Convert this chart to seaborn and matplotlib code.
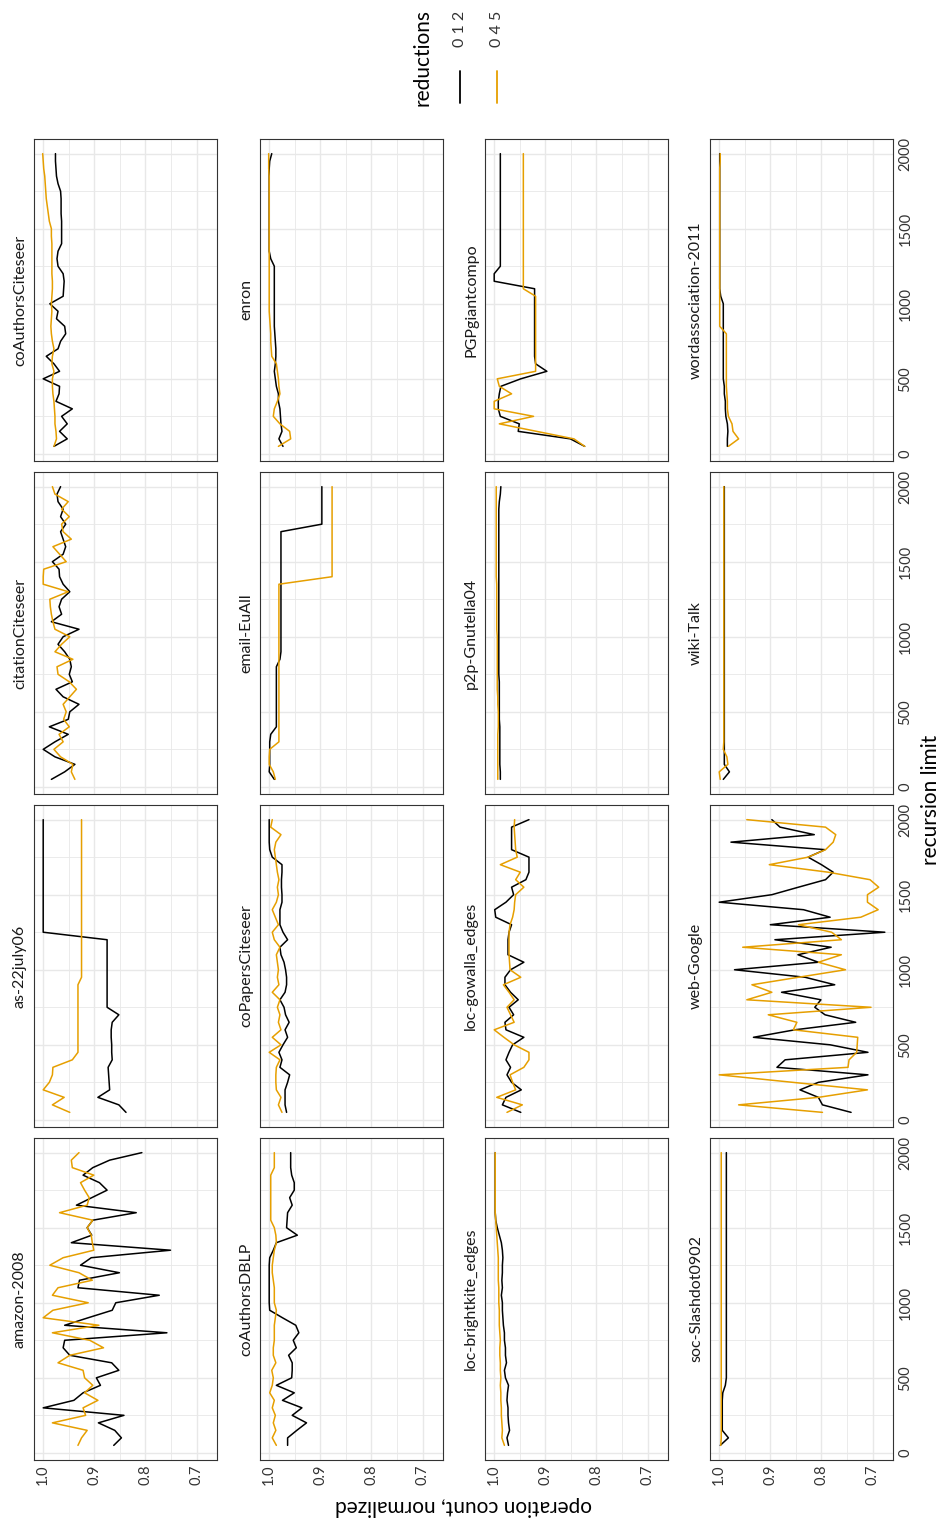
import numpy as np
import pandas as pd
import seaborn as sns
import matplotlib
matplotlib.use("Agg")
import matplotlib.pyplot as plt
from matplotlib.lines import Line2D
from matplotlib.ticker import FixedLocator, MultipleLocator, FormatStrFormatter

# recursion limits (x of the original chart)
limits = [50, 100, 150, 200, 250, 300, 350, 400, 450, 500,
          550, 600, 650, 700, 750, 800, 850, 900, 950, 1000,
          1050, 1100, 1150, 1200, 1250, 1300, 1350, 1400, 1450, 1500,
          1550, 1600, 1650, 1700, 1750, 1800, 1850, 1900, 1950, 2000]

graphs = ["amazon-2008", "as-22july06", "citationCiteseer", "coAuthorsCiteseer",
          "coAuthorsDBLP", "coPapersCiteseer", "email-EuAll", "enron",
          "loc-brightkite_edges", "loc-gowalla_edges", "p2p-Gnutella04", "PGPgiantcompo",
          "soc-Slashdot0902", "web-Google", "wiki-Talk", "wordassociation-2011"]

reductions = ["0 1 2", "0 4 5"]
colors = {"0 1 2": "#000000", "0 4 5": "#E69F00"}

# normalized operation counts, one list per graph and reduction set
amazon_012 = [0.862, 0.847, 0.860, 0.892, 0.842, 1.000, 0.940, 0.922, 0.888, 0.896,
              0.852, 0.866, 0.948, 0.961, 0.958, 0.758, 0.958, 0.912, 0.865, 0.858,
              0.773, 0.932, 0.929, 0.851, 0.927, 0.906, 0.751, 0.945, 0.905, 0.914,
              0.903, 0.818, 0.935, 0.905, 0.875, 0.890, 0.922, 0.903, 0.870, 0.807]
amazon_045 = [0.932, 0.925, 0.914, 0.982, 0.917, 0.922, 0.893, 0.919, 0.903, 0.919,
              0.922, 0.971, 0.948, 0.882, 0.909, 0.982, 0.891, 1.000, 0.981, 0.912,
              0.982, 0.971, 0.904, 0.930, 0.987, 0.961, 0.901, 0.904, 0.906, 0.914,
              0.903, 0.968, 0.914, 0.910, 0.919, 0.927, 0.901, 0.943, 0.945, 0.930]

as_012 = [0.838, 0.852, 0.893, 0.870, 0.871, 0.872, 0.873, 0.865, 0.866, 0.866,
          0.867, 0.867, 0.865, 0.852, 0.875, 0.875, 0.875, 0.875, 0.875, 0.875,
          0.875, 0.875, 0.875, 0.875, 1.000, 1.000, 1.000, 1.000, 1.000, 1.000,
          1.000, 1.000, 1.000, 1.000, 1.000, 1.000, 1.000, 1.000, 1.000, 1.000]
as_045 = [0.948, 0.982, 0.959, 1.000, 0.988, 0.982, 0.981, 0.943, 0.932, 0.932,
          0.932, 0.932, 0.932, 0.932, 0.932, 0.932, 0.932, 0.932, 0.925, 0.925,
          0.925, 0.925, 0.925, 0.925, 0.925, 0.925, 0.925, 0.925, 0.925, 0.925,
          0.925, 0.925, 0.925, 0.925, 0.925, 0.925, 0.925, 0.925, 0.925, 0.925]

citation_012 = [0.984, 0.958, 0.938, 0.977, 1.000, 0.977, 0.951, 0.988, 0.951, 0.948,
                0.930, 0.961, 0.975, 0.943, 0.949, 0.945, 0.948, 0.958, 0.971, 0.961,
                0.930, 0.984, 0.964, 0.969, 0.964, 0.948, 0.961, 0.968, 0.969, 0.982,
                0.961, 0.956, 0.961, 0.966, 0.956, 0.966, 0.961, 0.971, 0.973, 0.966]
citation_045 = [0.938, 0.945, 0.942, 0.966, 0.979, 0.961, 0.969, 0.949, 0.960, 0.955,
                0.961, 0.948, 0.935, 0.949, 0.971, 0.973, 0.942, 0.977, 0.964, 0.948,
                0.977, 0.981, 0.984, 0.986, 0.987, 0.951, 1.000, 1.000, 0.999, 0.955,
                0.968, 0.981, 0.945, 0.961, 0.964, 0.949, 0.964, 0.951, 0.977, 0.982]

coauthcite_012 = [0.979, 0.953, 0.968, 0.953, 0.964, 0.943, 0.975, 0.969, 0.968, 1.000,
                  0.968, 0.979, 0.994, 0.971, 0.966, 0.956, 0.958, 0.974, 0.971, 0.987,
                  0.961, 0.960, 0.959, 0.961, 0.971, 0.973, 0.971, 0.964, 0.964, 0.964,
                  0.964, 0.965, 0.965, 0.965, 0.966, 0.971, 0.974, 0.975, 0.976, 0.976]
coauthcite_045 = [0.979, 0.974, 0.975, 0.977, 0.977, 0.978, 0.979, 0.981, 0.982, 0.982,
                  0.979, 0.983, 0.982, 0.979, 0.982, 0.984, 0.985, 0.984, 0.983, 0.984,
                  0.983, 0.982, 0.982, 0.983, 0.983, 0.983, 0.983, 0.983, 0.984, 0.984,
                  0.988, 0.990, 0.992, 0.994, 0.995, 0.996, 0.997, 0.999, 1.000, 1.001]

dblp_012 = [0.964, 0.964, 0.946, 0.927, 0.955, 0.936, 0.974, 0.951, 0.986, 0.956,
            0.955, 0.955, 0.962, 0.947, 0.953, 0.942, 0.948, 0.974, 0.999, 1.000,
            1.000, 1.000, 1.000, 1.000, 1.000, 0.999, 0.992, 0.986, 0.945, 0.966,
            0.965, 0.964, 0.955, 0.960, 0.951, 0.951, 0.956, 0.958, 0.958, 0.958]
dblp_045 = [0.986, 0.994, 0.987, 0.992, 0.988, 0.994, 0.990, 0.999, 0.994, 0.992,
            0.995, 0.987, 0.992, 0.992, 0.990, 0.990, 0.990, 0.988, 0.986, 0.990,
            0.990, 0.990, 0.992, 0.994, 0.994, 0.992, 0.990, 0.986, 0.987, 0.990,
            0.997, 0.997, 0.997, 0.997, 0.997, 0.997, 0.997, 0.990, 0.990, 0.990]

copapers_012 = [0.966, 0.969, 0.969, 0.969, 0.964, 0.960, 0.979, 0.975, 0.981, 0.973,
                0.964, 0.969, 0.961, 0.968, 0.971, 0.979, 0.969, 0.966, 0.966, 0.968,
                0.971, 0.977, 0.979, 0.964, 0.973, 0.979, 0.979, 0.979, 0.975, 0.975,
                0.976, 0.976, 0.975, 0.975, 0.994, 0.999, 1.000, 1.000, 1.000, 1.000]
copapers_045 = [0.975, 0.982, 0.977, 0.986, 0.987, 0.987, 0.986, 0.979, 1.000, 0.977,
                0.994, 0.977, 0.982, 0.979, 0.984, 0.979, 0.994, 0.981, 0.984, 0.982,
                0.984, 0.986, 0.979, 0.990, 0.994, 0.982, 0.988, 0.994, 0.986, 0.982,
                0.984, 0.981, 0.984, 0.986, 0.988, 0.990, 0.987, 0.977, 0.997, 0.994]

email_012 = [0.990, 1.000, 0.999, 0.999, 0.999, 0.999, 0.997, 0.986, 0.986, 0.986,
             0.986, 0.986, 0.986, 0.986, 0.986, 0.986, 0.979, 0.977, 0.977, 0.977,
             0.977, 0.977, 0.977, 0.977, 0.977, 0.977, 0.977, 0.977, 0.977, 0.977,
             0.977, 0.977, 0.977, 0.977, 0.897, 0.897, 0.897, 0.897, 0.897, 0.897]
email_045 = [0.988, 0.992, 1.000, 1.000, 0.999, 0.981, 0.981, 0.981, 0.981, 0.981,
             0.981, 0.981, 0.981, 0.981, 0.981, 0.981, 0.981, 0.981, 0.981, 0.981,
             0.981, 0.981, 0.981, 0.981, 0.981, 0.981, 0.981, 0.877, 0.877, 0.877,
             0.877, 0.877, 0.877, 0.877, 0.877, 0.877, 0.877, 0.877, 0.877, 0.877]

enron_012 = [0.973, 0.981, 0.975, 0.977, 0.978, 0.979, 0.982, 0.982, 0.986, 0.988,
             0.990, 0.988, 0.987, 0.987, 0.988, 0.989, 0.990, 0.990, 0.990, 0.990,
             0.990, 0.990, 0.990, 0.990, 0.990, 0.997, 1.000, 1.000, 1.000, 1.000,
             1.000, 1.000, 1.000, 1.000, 1.000, 1.000, 1.000, 1.000, 0.999, 0.995]
enron_045 = [0.982, 0.958, 0.960, 0.979, 0.992, 0.990, 0.984, 0.979, 0.981, 0.982,
             0.984, 0.986, 0.995, 0.996, 0.997, 0.997, 0.998, 0.999, 1.000, 1.000,
             1.000, 1.000, 1.000, 1.000, 1.000, 1.000, 1.000, 1.000, 1.000, 1.000,
             1.000, 1.000, 1.000, 1.000, 1.000, 1.000, 1.000, 1.001, 1.001, 1.001]

brightkite_012 = [0.972, 0.975, 0.970, 0.972, 0.973, 0.973, 0.975, 0.974, 0.972, 0.978,
                  0.980, 0.976, 0.978, 0.978, 0.980, 0.980, 0.982, 0.983, 0.984, 0.984,
                  0.986, 0.984, 0.985, 0.984, 0.984, 0.983, 0.984, 0.986, 0.990, 0.994,
                  0.997, 0.998, 0.998, 0.998, 0.998, 0.998, 0.998, 0.998, 0.998, 0.998]
brightkite_045 = [0.980, 0.985, 0.984, 0.985, 0.986, 0.986, 0.987, 0.987, 0.988, 0.987,
                  0.988, 0.988, 0.989, 0.989, 0.988, 0.989, 0.990, 0.990, 0.990, 0.991,
                  0.991, 0.991, 0.992, 0.992, 0.992, 0.992, 0.993, 0.994, 0.995, 0.996,
                  0.997, 0.998, 0.998, 0.998, 0.998, 0.998, 0.998, 0.998, 0.998, 0.998]

gowalla_012 = [0.948, 0.984, 0.977, 0.947, 0.966, 0.975, 0.968, 0.977, 0.971, 0.964,
               0.942, 0.977, 0.979, 0.962, 0.971, 0.953, 0.968, 0.979, 0.979, 0.968,
               0.942, 0.973, 0.973, 0.973, 0.971, 0.966, 0.997, 0.999, 0.977, 0.962,
               0.966, 0.938, 0.932, 0.932, 0.932, 0.966, 0.966, 0.966, 0.966, 0.932]
gowalla_045 = [0.975, 0.945, 0.995, 0.958, 0.964, 0.969, 0.942, 0.932, 0.932, 0.961,
               0.981, 1.000, 0.961, 0.968, 0.975, 0.961, 0.971, 0.982, 0.948, 0.969,
               0.970, 0.971, 0.971, 0.971, 0.971, 0.969, 0.964, 0.961, 0.960, 0.958,
               0.942, 0.958, 0.949, 0.988, 0.955, 0.958, 0.959, 0.960, 0.961, 0.960]

p2p_012 = [0.988, 0.988, 0.989, 0.989, 0.989, 0.989, 0.989, 0.989, 0.990, 0.990,
           0.990, 0.990, 0.990, 0.990, 0.991, 0.991, 0.991, 0.991, 0.991, 0.991,
           0.991, 0.991, 0.991, 0.991, 0.991, 0.991, 0.991, 0.991, 0.991, 0.991,
           0.991, 0.991, 0.991, 0.991, 0.991, 0.991, 0.991, 0.990, 0.988, 0.987]
p2p_045 = [0.993, 0.993, 0.993, 0.993, 0.993, 0.993, 0.993, 0.992, 0.992, 0.992,
           0.993, 0.993, 0.994, 0.994, 0.994, 0.994, 0.994, 0.994, 0.994, 0.994,
           0.995, 0.995, 0.995, 0.995, 0.995, 0.995, 0.995, 0.996, 0.996, 0.996,
           0.996, 0.996, 0.996, 0.996, 0.996, 0.996, 0.996, 0.996, 0.996, 0.996]

pgp_012 = [0.823, 0.851, 0.953, 0.951, 0.988, 0.992, 0.992, 0.990, 0.987, 0.948,
           0.897, 0.919, 0.921, 0.921, 0.921, 0.921, 0.921, 0.921, 0.921, 0.921,
           0.921, 0.921, 1.000, 1.000, 0.988, 0.988, 0.988, 0.988, 0.988, 0.988,
           0.988, 0.988, 0.988, 0.988, 0.988, 0.988, 0.988, 0.988, 0.988, 0.988]
pgp_045 = [0.823, 0.844, 0.917, 0.990, 0.923, 1.000, 1.000, 0.966, 0.990, 0.994,
           0.919, 0.919, 0.919, 0.919, 0.919, 0.919, 0.919, 0.919, 0.919, 0.919,
           0.919, 0.943, 0.943, 0.943, 0.943, 0.943, 0.943, 0.943, 0.943, 0.943,
           0.943, 0.943, 0.943, 0.943, 0.943, 0.943, 0.943, 0.943, 0.943, 0.943]

slashdot_012 = [0.998, 0.982, 0.994, 0.994, 0.994, 0.994, 0.994, 0.993, 0.988, 0.986,
                0.986, 0.986, 0.986, 0.986, 0.986, 0.986, 0.986, 0.986, 0.986, 0.986,
                0.986, 0.986, 0.986, 0.986, 0.986, 0.986, 0.986, 0.986, 0.986, 0.986,
                0.986, 0.986, 0.986, 0.986, 0.986, 0.986, 0.986, 0.986, 0.986, 0.986]
slashdot_045 = [0.997, 0.996, 0.996, 0.996, 0.996, 0.996, 0.996, 0.996, 0.996, 0.996,
                0.996, 0.996, 0.996, 0.996, 0.996, 0.996, 0.996, 0.996, 0.996, 0.996,
                0.996, 0.996, 0.996, 0.996, 0.996, 0.996, 0.996, 0.996, 0.996, 0.996,
                0.996, 0.996, 0.996, 0.996, 0.996, 0.996, 0.996, 0.996, 0.996, 0.996]

google_012 = [0.742, 0.798, 0.806, 0.842, 0.806, 0.709, 0.887, 0.871, 0.709, 0.783,
              0.933, 0.852, 0.733, 0.793, 0.813, 0.801, 0.878, 0.774, 0.832, 0.970,
              0.806, 0.846, 0.781, 0.891, 0.676, 0.900, 0.783, 0.835, 1.000, 0.897,
              0.845, 0.792, 0.777, 0.800, 0.826, 0.793, 0.977, 0.814, 0.881, 0.897]
google_045 = [0.798, 0.962, 0.806, 0.710, 0.856, 1.000, 0.748, 0.746, 0.731, 0.730,
              0.729, 0.855, 0.848, 0.904, 0.703, 0.946, 0.897, 0.936, 0.845, 0.753,
              0.806, 0.761, 0.954, 0.761, 0.780, 0.845, 0.723, 0.689, 0.710, 0.710,
              0.688, 0.705, 0.787, 0.902, 0.826, 0.792, 0.777, 0.772, 0.792, 0.946]

wiki_012 = [0.992, 0.980, 0.990, 0.990, 0.990, 0.990, 0.990, 0.990, 0.990, 0.990,
            0.990, 0.990, 0.990, 0.990, 0.990, 0.990, 0.990, 0.990, 0.990, 0.990,
            0.990, 0.990, 0.990, 0.990, 0.990, 0.990, 0.990, 0.990, 0.990, 0.990,
            0.990, 0.990, 0.990, 0.990, 0.990, 0.990, 0.990, 0.990, 0.990, 0.990]
wiki_045 = [0.998, 1.000, 0.983, 0.985, 0.992, 0.991, 0.991, 0.991, 0.991, 0.991,
            0.991, 0.991, 0.991, 0.991, 0.991, 0.991, 0.991, 0.991, 0.991, 0.991,
            0.991, 0.991, 0.991, 0.991, 0.991, 0.991, 0.991, 0.991, 0.991, 0.991,
            0.991, 0.991, 0.991, 0.991, 0.991, 0.991, 0.991, 0.991, 0.991, 0.991]

wordassoc_012 = [0.984, 0.984, 0.983, 0.984, 0.987, 0.988, 0.988, 0.990, 0.990, 0.992,
                 0.992, 0.992, 0.992, 0.992, 0.992, 0.992, 0.992, 0.992, 0.992, 0.992,
                 0.997, 0.999, 0.999, 0.999, 0.999, 0.999, 0.999, 0.999, 0.999, 0.999,
                 0.999, 0.999, 0.999, 0.999, 0.999, 0.999, 0.999, 0.999, 0.999, 0.999]
wordassoc_045 = [0.982, 0.962, 0.973, 0.975, 0.982, 0.984, 0.984, 0.985, 0.986, 0.986,
                 0.986, 0.986, 0.986, 0.986, 0.986, 0.986, 0.999, 0.999, 0.999, 0.999,
                 0.999, 0.999, 0.999, 0.999, 0.999, 0.999, 0.999, 0.999, 0.999, 0.999,
                 0.999, 0.999, 0.999, 0.999, 0.999, 0.999, 0.999, 0.999, 0.998, 0.998]

series = {
    "amazon-2008": (amazon_012, amazon_045),
    "as-22july06": (as_012, as_045),
    "citationCiteseer": (citation_012, citation_045),
    "coAuthorsCiteseer": (coauthcite_012, coauthcite_045),
    "coAuthorsDBLP": (dblp_012, dblp_045),
    "coPapersCiteseer": (copapers_012, copapers_045),
    "email-EuAll": (email_012, email_045),
    "enron": (enron_012, enron_045),
    "loc-brightkite_edges": (brightkite_012, brightkite_045),
    "loc-gowalla_edges": (gowalla_012, gowalla_045),
    "p2p-Gnutella04": (p2p_012, p2p_045),
    "PGPgiantcompo": (pgp_012, pgp_045),
    "soc-Slashdot0902": (slashdot_012, slashdot_045),
    "web-Google": (google_012, google_045),
    "wiki-Talk": (wiki_012, wiki_045),
    "wordassociation-2011": (wordassoc_012, wordassoc_045),
}

# long table for seaborn
rows = []
for g in graphs:
    for red, vals in zip(reductions, series[g]):
        for lim, v in zip(limits, vals):
            rows.append((g, red, lim, v))
df = pd.DataFrame(rows, columns=["graph", "reductions", "limit", "value"])

sns.set_theme(style="white")
plt.rcParams["font.family"] = ["Lato", "DejaVu Sans"]

# the whole chart is laid out turned by 90 degrees
W, H = 943, 1525
fig = plt.figure(figsize=(W / 100, H / 100), dpi=100)

col_left = [34, 260, 485, 710]
row_top = [1138, 805, 472, 139]   # from bottom row to top row
pw, ph = 183, 322
grid_col = "#E8E8E8"
text_col = "#333333"

for i, g in enumerate(graphs):
    c, r = i // 4, i % 4
    ax = fig.add_axes([col_left[c] / W, 1 - (row_top[r] + ph) / H, pw / W, ph / H])
    sns.lineplot(data=df[df["graph"] == g], x="value", y="limit", hue="reductions",
                 palette=colors, orient="y", estimator=None, legend=False,
                 linewidth=1.1, ax=ax)
    ax.set_xlim(1.018, 0.660)
    ax.set_ylim(-47.5, 2097.5)
    ax.xaxis.set_major_locator(FixedLocator([1.0, 0.9, 0.8, 0.7]))
    ax.xaxis.set_minor_locator(FixedLocator([0.95, 0.85, 0.75]))
    ax.xaxis.set_major_formatter(FormatStrFormatter("%.1f"))
    ax.yaxis.set_major_locator(MultipleLocator(500))
    ax.yaxis.set_minor_locator(FixedLocator([250, 750, 1250, 1750]))
    ax.grid(which="major", color=grid_col, lw=1.0)
    ax.grid(which="minor", color=grid_col, lw=0.6)
    ax.set_axisbelow(True)
    ax.set_xlabel("")
    ax.set_ylabel("")
    for s in ax.spines.values():
        s.set_color(text_col)
        s.set_linewidth(0.8)
    ax.tick_params(which="both", length=0, labelsize=10.5, labelcolor=text_col)
    ax.tick_params(axis="x", labelbottom=(r == 0), labelrotation=90, pad=3)
    if c == 3:
        ax.yaxis.tick_right()
        ax.tick_params(axis="y", labelright=True, labelleft=False, labelrotation=90, pad=4)
        for lbl in ax.get_yticklabels():
            lbl.set_va("center")
    else:
        ax.tick_params(axis="y", labelleft=False)

    # facet strip label
    fig.text((col_left[c] - 14) / W, 1 - (row_top[r] + ph / 2) / H, g,
             rotation=90, ha="center", va="center", fontsize=11.5, color="#1A1A1A")

# axis titles
fig.text(463 / W, 1 - 1506 / H, "operation count, normalized", rotation=180,
         ha="center", va="center", fontsize=15, color="#000000")
fig.text(931 / W, 1 - 800 / H, "recursion limit", rotation=90,
         ha="center", va="center", fontsize=15, color="#000000")

# legend
fig.text(422 / W, 1 - 106 / H, "reductions", rotation=90, ha="center", va="bottom",
         fontsize=15, color="#000000")
for xk, red in zip([460, 497], reductions):
    fig.add_artist(Line2D([xk / W, xk / W], [1 - 103 / H, 1 - 71 / H],
                          color=colors[red], lw=1.3, transform=fig.transFigure))
    fig.text(xk / W, 1 - 47 / H, red, rotation=90, ha="center", va="bottom",
             fontsize=11.5, color=text_col)

fig.savefig("out.png", dpi=100)
